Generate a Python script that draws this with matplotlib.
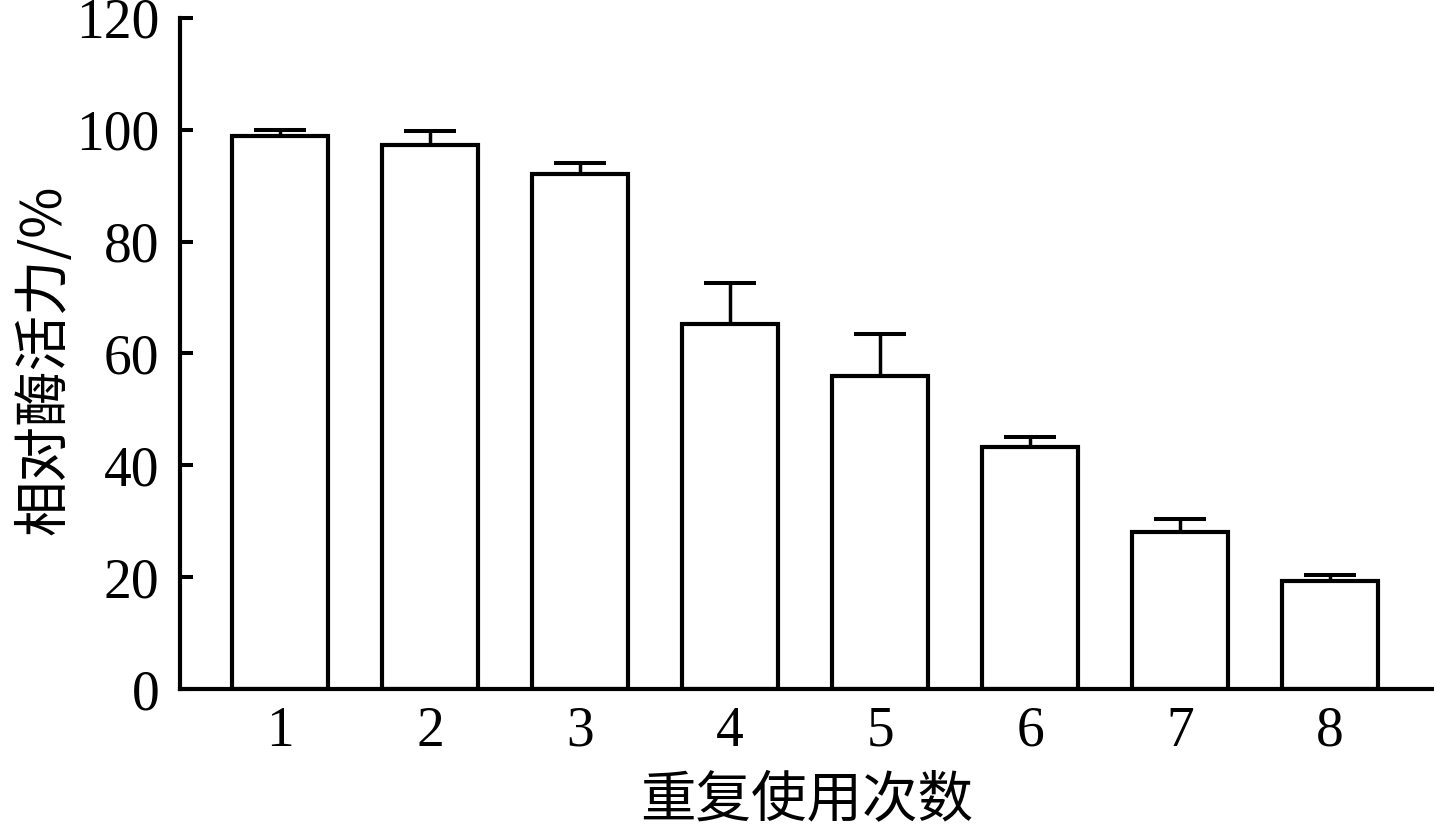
import matplotlib
matplotlib.use("Agg")
import matplotlib.pyplot as plt
import numpy as np

# data
cycles = ["1", "2", "3", "4", "5", "6", "7", "8"]
activity = [98.9, 97.3, 92.1, 65.3, 55.9, 43.2, 28.0, 19.4]
errors = [1.1, 2.5, 2.0, 7.3, 7.5, 1.8, 2.4, 0.9]
y_ticks = [0, 20, 40, 60, 80, 100, 120]

plt.rcParams['font.family'] = ['Liberation Serif', 'Noto Sans CJK SC']

fig = plt.figure(figsize=(14.34, 8.30), dpi=100)
ax = fig.add_axes([180 / 1434, 141 / 830, 1254 / 1434, 671 / 830])

x = np.arange(1, len(cycles) + 1)

# error bars behind the white bars -> only the upper half shows
ax.errorbar(x, activity, yerr=errors, fmt='none', ecolor='black',
            elinewidth=2.5, capsize=18.5, capthick=2.9, zorder=1)
ax.bar(x, activity, width=0.64, color='white', edgecolor='black',
       linewidth=3.0, zorder=2)

ax.set_xlim(1 - 100 / 150, 1 + 1154 / 150)
ax.set_ylim(0, 120)
ax.set_xticks(x)
ax.set_xticklabels(cycles)
ax.set_yticks(y_ticks)

for side in ['top', 'right']:
    ax.spines[side].set_visible(False)
for side in ['left', 'bottom']:
    ax.spines[side].set_linewidth(3.0)

ax.tick_params(axis='y', direction='in', length=9, width=2.9, pad=15,
               labelsize=40)
ax.tick_params(axis='x', length=0, pad=12, labelsize=40)

cjk = ['Noto Sans CJK SC', 'DejaVu Sans']
ax.set_xlabel('重复使用次数', family=cjk, fontsize=40)
ax.xaxis.label.set_va('center')
ax.xaxis.set_label_coords(0.5, (689 - 800) / 671)

ax.set_ylabel('相对酶活力/%', family=cjk, fontsize=40)
ax.yaxis.label.set_va('center')
ax.yaxis.set_label_coords((45 - 180) / 1254, (689 - 360) / 671)

fig.savefig('out.png', dpi=100, facecolor='white')
